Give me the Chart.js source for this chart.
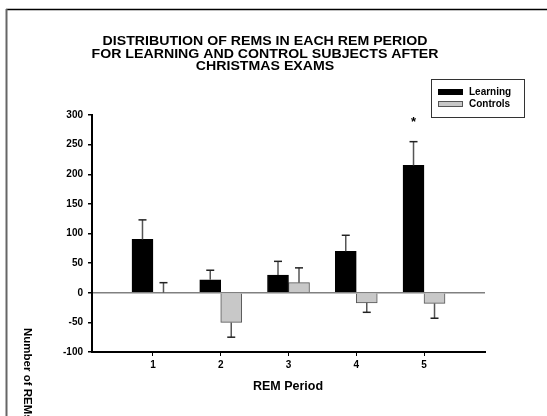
<!DOCTYPE html>
<html>
<head>
<meta charset="utf-8">
<script src="https://cdn.jsdelivr.net/npm/chart.js@4.4.1/dist/chart.umd.min.js"></script>
<style>
html, body { margin: 0; padding: 0; background: #fff; }
#wrap { width: 547px; height: 416px; position: relative; }
</style>
</head>
<body>
<div id="wrap"><canvas id="remChart" width="547" height="416"></canvas></div>
<script>
// values
const periods = [1, 2, 3, 4, 5];
const learningMeans = [90, 22, 30, 70, 215];
const learningErr = [33, 16, 23, 27, 40];
const controlMeans = [0, -50, 17, -17, -18];
const controlErr = [17, 25, 25, 16, 25];
const sigMarks = ['', '', '', '', '*'];
const titleLines = [
    'DISTRIBUTION OF REMS IN EACH REM PERIOD',
    'FOR LEARNING AND CONTROL SUBJECTS AFTER',
    'CHRISTMAS EXAMS'
];

const FONT = '"Liberation Sans", Arial, sans-serif';

// Draws frame, title, legend box, axis labels, error bars and the asterisk
const extrasPlugin = {
    id: 'extras',
    beforeDraw(chart) {
        const ctx = chart.ctx;
        ctx.save();
        ctx.strokeStyle = '#000';
        ctx.lineWidth = 1.5;
        ctx.beginPath();
        ctx.moveTo(6, 9.5);
        ctx.lineTo(547, 9.5);
        ctx.stroke();
        ctx.strokeStyle = '#666';
        ctx.lineWidth = 2;
        ctx.beginPath();
        ctx.moveTo(6.5, 9);
        ctx.lineTo(6.5, 416);
        ctx.stroke();
        ctx.restore();
    },
    afterDatasetsDraw(chart) {
        const ctx = chart.ctx;
        const yScale = chart.scales.y;
        const errs = [learningErr, controlErr];
        ctx.save();
        chart.data.datasets.forEach((ds, d) => {
            const meta = chart.getDatasetMeta(d);
            meta.data.forEach((bar, i) => {
                const v = ds.data[i].y;
                const sign = v >= 0 ? 1 : -1;
                const y0 = yScale.getPixelForValue(v);
                const y1 = yScale.getPixelForValue(v + sign * errs[d][i]);
                ctx.strokeStyle = '#555';
                ctx.lineWidth = 1.5;
                ctx.beginPath();
                ctx.moveTo(bar.x, y0);
                ctx.lineTo(bar.x, y1);
                ctx.stroke();
                ctx.strokeStyle = '#222';
                ctx.beginPath();
                ctx.moveTo(bar.x - 4, y1);
                ctx.lineTo(bar.x + 4, y1);
                ctx.stroke();
                if (d === 0 && sigMarks[i]) {
                    ctx.fillStyle = '#000';
                    ctx.font = 'bold 13px ' + FONT;
                    ctx.textAlign = 'center';
                    ctx.textBaseline = 'middle';
                    ctx.fillText(sigMarks[i], bar.x, y1 - 19);
                }
            });
        });

        // title (the original lettering is a little wide, so stretch it sideways)
        ctx.fillStyle = '#000';
        ctx.font = 'bold 12px ' + FONT;
        ctx.textAlign = 'center';
        ctx.textBaseline = 'middle';
        titleLines.forEach((line, k) => {
            ctx.save();
            ctx.translate(265, 41.5 + k * 12.8);
            ctx.scale(1.18, 1);
            ctx.fillText(line, 0, 0);
            ctx.restore();
        });

        // legend box
        ctx.strokeStyle = '#333';
        ctx.lineWidth = 1;
        ctx.strokeRect(431.5, 79.5, 93, 38);
        chart.data.datasets.forEach((ds, d) => {
            const y = 89 + d * 12;
            ctx.fillStyle = ds.backgroundColor;
            ctx.fillRect(438, y, 25, 6);
            ctx.strokeStyle = ds.borderColor;
            ctx.strokeRect(438.5, y + 0.5, 24, 5);
            ctx.fillStyle = '#000';
            ctx.font = 'bold 10px ' + FONT;
            ctx.textAlign = 'left';
            ctx.fillText(ds.label, 469, y + 3.5);
        });

        // axis titles
        ctx.font = 'bold 12.5px ' + FONT;
        ctx.textAlign = 'center';
        ctx.fillText('REM Period', 288, 387);
        ctx.translate(27, 328);
        ctx.rotate(Math.PI / 2);
        ctx.font = 'bold 11.5px ' + FONT;
        ctx.textAlign = 'left';
        ctx.fillText('Number of REMs', 0, 0);
        ctx.restore();
    }
};

new Chart(document.getElementById('remChart'), {
    type: 'bar',
    data: {
        datasets: [
            {
                label: 'Learning',
                data: periods.map((p, i) => ({ x: p, y: learningMeans[i] })),
                backgroundColor: '#000',
                borderColor: '#000',
                borderWidth: 1
            },
            {
                label: 'Controls',
                data: periods.map((p, i) => ({ x: p, y: controlMeans[i] })),
                backgroundColor: '#c8c8c8',
                borderColor: '#555',
                borderWidth: 1
            }
        ]
    },
    options: {
        responsive: false,
        animation: false,
        barThickness: 21,
        layout: { padding: { left: 0, top: 115, right: 62, bottom: 0 } },
        plugins: {
            legend: { display: false },
            tooltip: { enabled: false },
            title: { display: false }
        },
        scales: {
            x: {
                type: 'linear',
                min: 0.1,
                max: 5.9,
                offset: false,
                afterBuildTicks: scale => { scale.ticks = periods.map(v => ({ value: v })); },
                afterFit: scale => { scale.height = 64; },
                ticks: {
                    color: '#000',
                    font: { family: FONT, size: 10, weight: 'bold' },
                    padding: 3,
                    maxRotation: 0
                },
                grid: { drawOnChartArea: false, offset: false, tickLength: 4, tickColor: '#000' },
                border: { color: '#000', width: 2 }
            },
            y: {
                min: -100,
                max: 300,
                afterFit: scale => { scale.width = 92; },
                ticks: {
                    stepSize: 50,
                    color: '#000',
                    font: { family: FONT, size: 10, weight: 'bold' },
                    padding: 5
                },
                grid: {
                    color: c => (c.tick && c.tick.value === 0 ? '#808080' : 'rgba(0,0,0,0)'),
                    tickColor: '#000',
                    tickLength: 4,
                    lineWidth: 1.5
                },
                border: { color: '#000', width: 2 }
            }
        }
    },
    plugins: [extrasPlugin]
});
</script>
</body>
</html>
